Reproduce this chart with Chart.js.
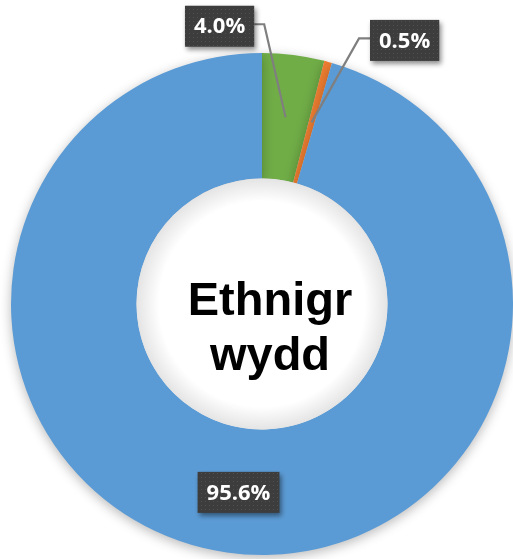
<!DOCTYPE html>
<html>
<head>
<meta charset="utf-8">
<script src="https://cdn.jsdelivr.net/npm/chart.js@4"></script>
<style>
  html, body { margin: 0; padding: 0; background: #fff; }
  #wrap { width: 513px; height: 559px; }
</style>
</head>
<body>
<div id="wrap"><canvas id="myChart" width="513" height="559"></canvas></div>
<script>
var categories = ["Categori 1", "Categori 2", "Categori 3"];
var values = [4.0, 0.5, 95.6];
var sliceColors = ["#70AD47", "#ED7D31", "#5B9BD5"];
var centerLines = ["Ethnigr", "wydd"];
// label box offsets from the middle of each slice, and whether a leader line is drawn
var labelOffsets = [[-66, -91], [93, -82], [3, 2]];
var leaderSide = ["right", "left", null];

function dotPattern(ctx) {
  var c = document.createElement("canvas");
  c.width = 4; c.height = 4;
  var p = c.getContext("2d");
  p.fillStyle = "#3d3d3d";
  p.fillRect(0, 0, 4, 4);
  p.fillStyle = "#4f4f4f";
  p.fillRect(1, 1, 1, 1);
  return ctx.createPattern(c, "repeat");
}

var ringShadow = {
  id: "ringShadow",
  beforeDatasetDraw: function (chart) {
    var ctx = chart.ctx;
    ctx.save();
    ctx.shadowColor = "rgba(0,0,0,0.28)";
    ctx.shadowBlur = 12;
    ctx.shadowOffsetY = 3;
  },
  afterDatasetDraw: function (chart) {
    chart.ctx.restore();
  }
};

var centerDisc = {
  id: "centerDisc",
  afterDatasetsDraw: function (chart) {
    var ctx = chart.ctx;
    var arc = chart.getDatasetMeta(0).data[0];
    var x = arc.x, y = arc.y, r = arc.innerRadius;
    var g = ctx.createRadialGradient(x, y, 0, x, y, r);
    g.addColorStop(0, "#ffffff");
    g.addColorStop(0.82, "#ffffff");
    g.addColorStop(1, "#e4e4e4");
    ctx.save();
    ctx.beginPath();
    ctx.arc(x, y, r, 0, Math.PI * 2);
    ctx.fillStyle = g;
    ctx.fill();
    ctx.fillStyle = "#000";
    ctx.font = "bold 47px 'Liberation Sans', Arial, sans-serif";
    ctx.textAlign = "center";
    ctx.textBaseline = "alphabetic";
    ctx.fillText(centerLines[0], x + 8, y + 11);
    ctx.fillText(centerLines[1], x + 8, y + 66);
    ctx.restore();
  }
};

var boxLabels = {
  id: "boxLabels",
  afterDraw: function (chart) {
    var ctx = chart.ctx;
    var meta = chart.getDatasetMeta(0);
    var pat = dotPattern(ctx);
    ctx.save();
    ctx.font = "bold 22px 'Open Sans', sans-serif";
    meta.data.forEach(function (arc, i) {
      var a = arc.tooltipPosition();
      var text = values[i].toFixed(1) + "%";
      var w = ctx.measureText(text).width + 18;
      var h = 41;
      var cx = a.x + labelOffsets[i][0];
      var cy = a.y + labelOffsets[i][1];
      var bx = cx - w / 2, by = cy - h / 2;
      if (leaderSide[i]) {
        var sx = leaderSide[i] === "right" ? bx + w : bx;
        var kx = leaderSide[i] === "right" ? sx + 10 : sx - 11;
        var ly = cy - 2;
        ctx.beginPath();
        ctx.moveTo(sx, ly);
        ctx.lineTo(kx, ly);
        ctx.lineTo(a.x, a.y);
        ctx.strokeStyle = "#7f7f7f";
        ctx.lineWidth = 2.2;
        ctx.stroke();
      }
      ctx.save();
      ctx.shadowColor = "rgba(0,0,0,0.45)";
      ctx.shadowBlur = 5;
      ctx.shadowOffsetX = 2;
      ctx.shadowOffsetY = 3;
      ctx.fillStyle = pat;
      ctx.fillRect(bx, by, w, h);
      ctx.restore();
      ctx.fillStyle = "#ffffff";
      ctx.textAlign = "center";
      ctx.textBaseline = "middle";
      ctx.fillText(text, cx, cy + 1);
    });
    ctx.restore();
  }
};

new Chart("myChart", {
  type: "doughnut",
  data: {
    labels: categories,
    datasets: [{
      data: values,
      backgroundColor: sliceColors,
      borderWidth: 0
    }]
  },
  options: {
    responsive: false,
    animation: false,
    cutout: "50%",
    layout: { padding: { left: 11, right: 0, top: 53, bottom: 4 } },
    plugins: {
      legend: { display: false },
      tooltip: { enabled: false }
    }
  },
  plugins: [ringShadow, centerDisc, boxLabels]
});
</script>
</body>
</html>
